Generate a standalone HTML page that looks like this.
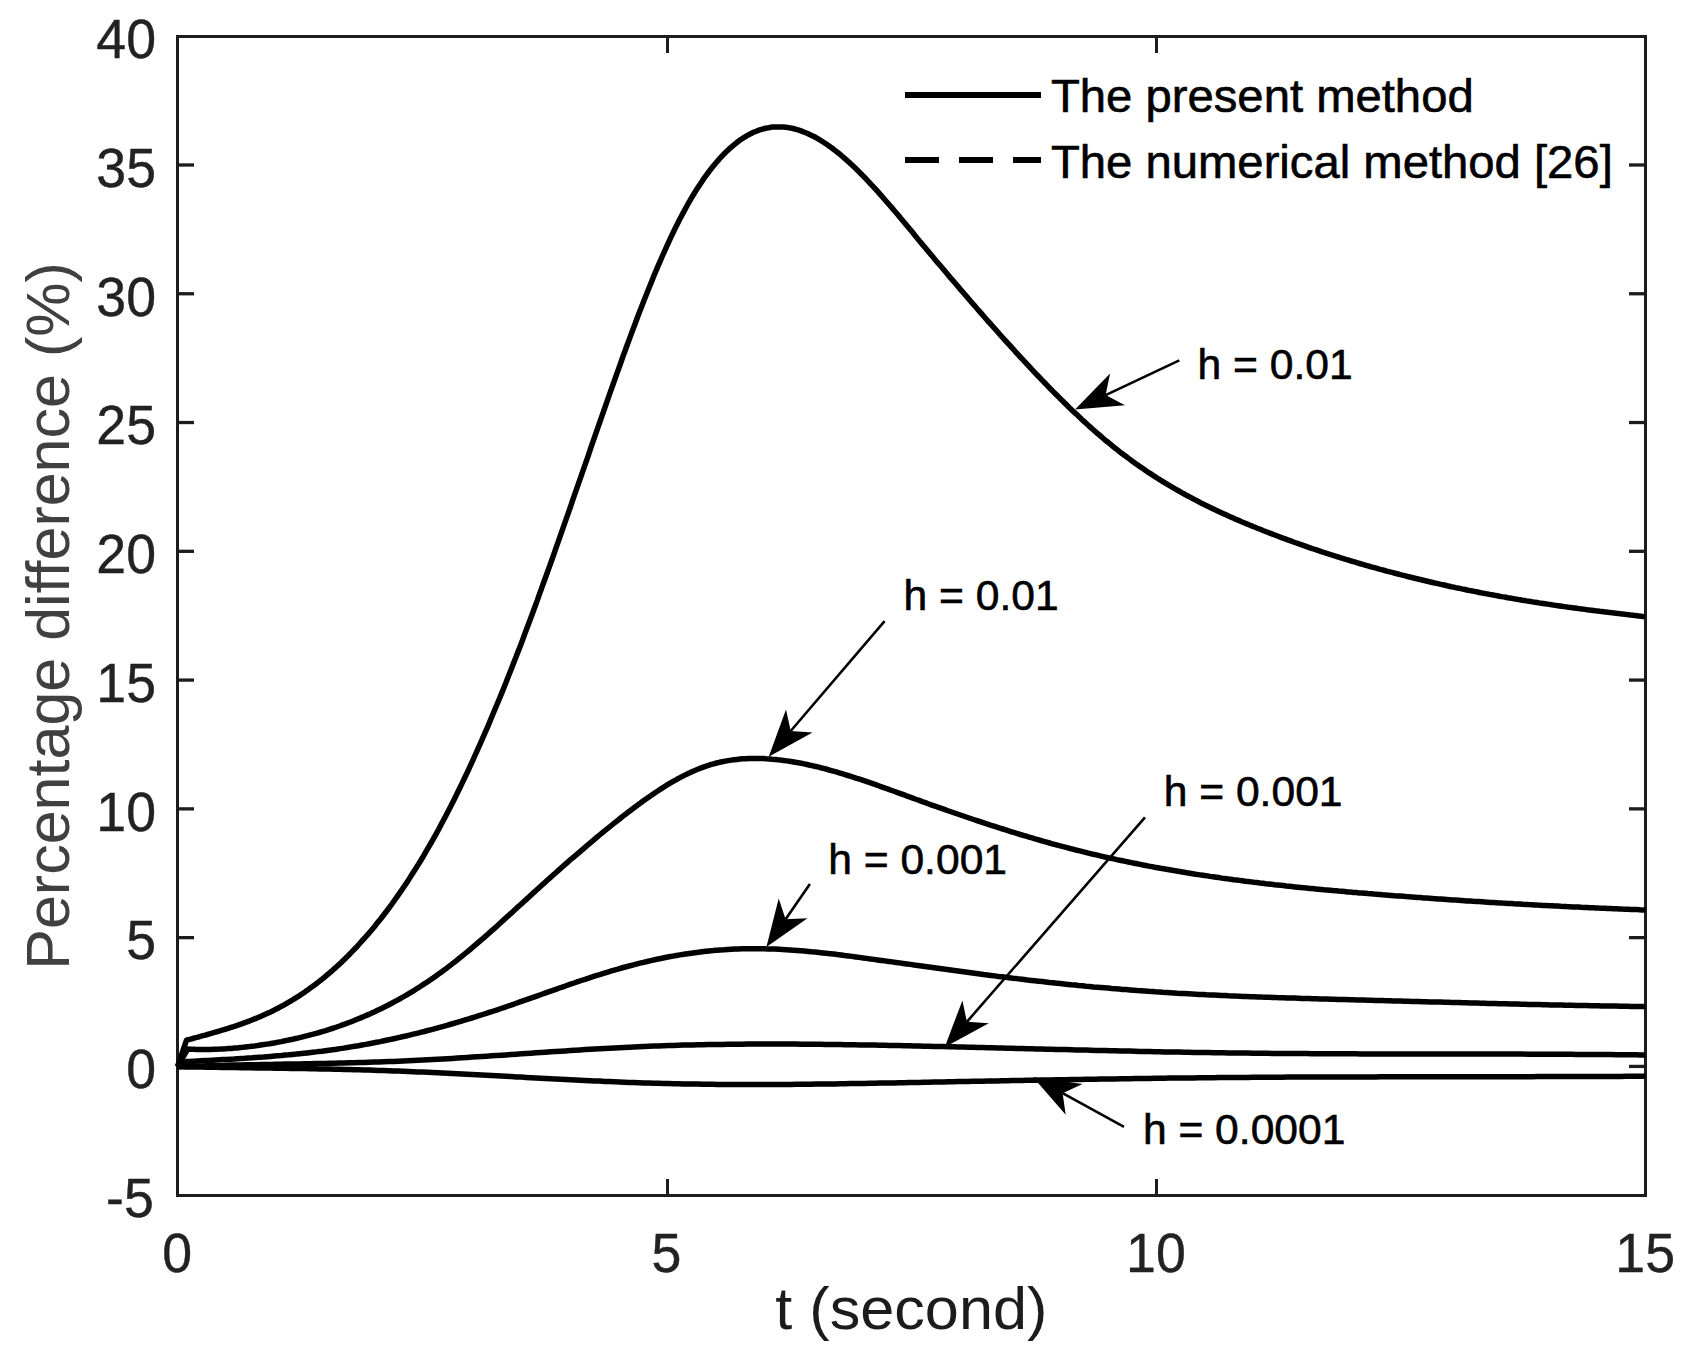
<!DOCTYPE html>
<html><head><meta charset="utf-8"><title>Percentage difference</title>
<style>html,body{margin:0;padding:0;background:#fff;overflow:hidden}svg{display:block}</style></head>
<body>
<svg width="1693" height="1363" viewBox="0 0 1693 1363">
<rect width="1693" height="1363" fill="#fff"/>
<g stroke="#1c1c1c" stroke-width="3" fill="none" shape-rendering="crispEdges">
<rect x="177.5" y="36.5" width="1468.0" height="1159.0"/>
<line x1="177.5" y1="1066.42" x2="194" y2="1066.42" stroke-width="3.3" shape-rendering="auto"/>
<line x1="1645.5" y1="1066.42" x2="1629" y2="1066.42" stroke-width="3.3" shape-rendering="auto"/>
<line x1="177.5" y1="937.64" x2="194" y2="937.64" stroke-width="3.3" shape-rendering="auto"/>
<line x1="1645.5" y1="937.64" x2="1629" y2="937.64" stroke-width="3.3" shape-rendering="auto"/>
<line x1="177.5" y1="808.87" x2="194" y2="808.87" stroke-width="3.3" shape-rendering="auto"/>
<line x1="1645.5" y1="808.87" x2="1629" y2="808.87" stroke-width="3.3" shape-rendering="auto"/>
<line x1="177.5" y1="680.09" x2="194" y2="680.09" stroke-width="3.3" shape-rendering="auto"/>
<line x1="1645.5" y1="680.09" x2="1629" y2="680.09" stroke-width="3.3" shape-rendering="auto"/>
<line x1="177.5" y1="551.31" x2="194" y2="551.31" stroke-width="3.3" shape-rendering="auto"/>
<line x1="1645.5" y1="551.31" x2="1629" y2="551.31" stroke-width="3.3" shape-rendering="auto"/>
<line x1="177.5" y1="422.53" x2="194" y2="422.53" stroke-width="3.3" shape-rendering="auto"/>
<line x1="1645.5" y1="422.53" x2="1629" y2="422.53" stroke-width="3.3" shape-rendering="auto"/>
<line x1="177.5" y1="293.76" x2="194" y2="293.76" stroke-width="3.3" shape-rendering="auto"/>
<line x1="1645.5" y1="293.76" x2="1629" y2="293.76" stroke-width="3.3" shape-rendering="auto"/>
<line x1="177.5" y1="164.98" x2="194" y2="164.98" stroke-width="3.3" shape-rendering="auto"/>
<line x1="1645.5" y1="164.98" x2="1629" y2="164.98" stroke-width="3.3" shape-rendering="auto"/>
<line x1="667.5" y1="1195.5" x2="667.5" y2="1179"/>
<line x1="667.5" y1="36.5" x2="667.5" y2="53"/>
<line x1="1156.5" y1="1195.5" x2="1156.5" y2="1179"/>
<line x1="1156.5" y1="36.5" x2="1156.5" y2="53"/>
</g>
<g fill="none" stroke="#000" stroke-width="5.5" stroke-linejoin="round" stroke-linecap="butt">
<path d="M177.5,1066.7 L186.5,1040.2 L188.6,1039.6 L190.7,1039.1 L192.8,1038.5 L194.8,1037.9 L196.9,1037.4 L199.0,1036.8 L201.1,1036.2 L203.2,1035.6 L205.3,1035.1 L207.4,1034.5 L209.5,1033.9 L211.5,1033.3 L213.6,1032.7 L215.7,1032.1 L217.8,1031.5 L219.9,1030.9 L222.0,1030.2 L224.1,1029.6 L226.2,1029.0 L228.2,1028.3 L230.3,1027.6 L232.4,1027.0 L234.5,1026.3 L236.6,1025.6 L238.7,1024.9 L240.8,1024.1 L242.9,1023.4 L244.9,1022.6 L247.0,1021.9 L249.1,1021.1 L251.2,1020.3 L253.3,1019.4 L255.4,1018.6 L257.5,1017.7 L259.6,1016.9 L261.6,1016.0 L263.7,1015.0 L265.8,1014.1 L267.9,1013.1 L270.0,1012.2 L272.1,1011.2 L274.2,1010.1 L276.3,1009.1 L278.3,1008.0 L280.4,1006.9 L282.5,1005.8 L284.6,1004.6 L286.7,1003.4 L288.8,1002.2 L290.9,1001.0 L293.0,999.7 L295.0,998.4 L297.1,997.1 L299.2,995.8 L301.3,994.4 L303.4,993.0 L305.5,991.6 L307.6,990.1 L309.6,988.6 L311.7,987.1 L313.8,985.6 L315.9,984.0 L318.0,982.4 L320.1,980.7 L322.2,979.1 L324.3,977.4 L326.3,975.7 L328.4,973.9 L330.5,972.1 L332.6,970.3 L334.7,968.4 L336.8,966.5 L338.9,964.6 L341.0,962.7 L343.0,960.7 L345.1,958.7 L347.2,956.6 L349.3,954.5 L351.4,952.4 L353.5,950.2 L355.6,948.0 L357.7,945.8 L359.7,943.5 L361.8,941.2 L363.9,938.9 L366.0,936.5 L368.1,934.1 L370.2,931.7 L372.3,929.2 L374.4,926.7 L376.4,924.1 L378.5,921.5 L380.6,918.9 L382.7,916.2 L384.8,913.5 L386.9,910.8 L389.0,908.0 L391.1,905.2 L393.1,902.3 L395.2,899.4 L397.3,896.4 L399.4,893.4 L401.5,890.4 L403.6,887.3 L405.7,884.2 L407.8,881.1 L409.8,877.9 L411.9,874.6 L414.0,871.3 L416.1,868.0 L418.2,864.6 L420.3,861.2 L422.4,857.8 L424.4,854.3 L426.5,850.7 L428.6,847.1 L430.7,843.5 L432.8,839.8 L434.9,836.1 L437.0,832.3 L439.1,828.5 L441.1,824.6 L443.2,820.7 L445.3,816.7 L447.4,812.7 L449.5,808.7 L451.6,804.6 L453.7,800.4 L455.8,796.2 L457.8,792.0 L459.9,787.7 L462.0,783.4 L464.1,779.0 L466.2,774.6 L468.3,770.2 L470.4,765.6 L472.5,761.1 L474.5,756.5 L476.6,751.9 L478.7,747.2 L480.8,742.5 L482.9,737.7 L485.0,732.9 L487.1,728.1 L489.2,723.2 L491.2,718.3 L493.3,713.3 L495.4,708.3 L497.5,703.3 L499.6,698.2 L501.7,693.1 L503.8,688.0 L505.9,682.8 L507.9,677.5 L510.0,672.3 L512.1,667.0 L514.2,661.6 L516.3,656.3 L518.4,650.8 L520.5,645.4 L522.6,639.9 L524.6,634.4 L526.7,628.8 L528.8,623.3 L530.9,617.6 L533.0,612.0 L535.1,606.3 L537.2,600.6 L539.2,594.9 L541.3,589.1 L543.4,583.3 L545.5,577.5 L547.6,571.7 L549.7,565.8 L551.8,560.0 L553.9,554.1 L555.9,548.2 L558.0,542.3 L560.1,536.3 L562.2,530.4 L564.3,524.4 L566.4,518.4 L568.5,512.4 L570.6,506.5 L572.6,500.4 L574.7,494.4 L576.8,488.4 L578.9,482.4 L581.0,476.4 L583.1,470.4 L585.2,464.3 L587.3,458.3 L589.3,452.3 L591.4,446.2 L593.5,440.2 L595.6,434.2 L597.7,428.2 L599.8,422.2 L601.9,416.2 L604.0,410.2 L606.0,404.3 L608.1,398.3 L610.2,392.4 L612.3,386.5 L614.4,380.6 L616.5,374.7 L618.6,368.8 L620.7,363.0 L622.7,357.2 L624.8,351.5 L626.9,345.8 L629.0,340.1 L631.1,334.4 L633.2,328.8 L635.3,323.3 L637.3,317.8 L639.4,312.3 L641.5,306.9 L643.6,301.5 L645.7,296.2 L647.8,291.0 L649.9,285.8 L652.0,280.6 L654.0,275.6 L656.1,270.6 L658.2,265.6 L660.3,260.8 L662.4,256.0 L664.5,251.3 L666.6,246.6 L668.7,242.1 L670.7,237.6 L672.8,233.2 L674.9,228.9 L677.0,224.7 L679.1,220.5 L681.2,216.5 L683.3,212.6 L685.4,208.7 L687.4,205.0 L689.5,201.3 L691.6,197.7 L693.7,194.3 L695.8,190.9 L697.9,187.6 L700.0,184.4 L702.1,181.3 L704.1,178.2 L706.2,175.3 L708.3,172.5 L710.4,169.7 L712.5,167.1 L714.6,164.5 L716.7,162.0 L718.8,159.6 L720.8,157.3 L722.9,155.1 L725.0,153.0 L727.1,150.9 L729.2,148.9 L731.3,147.1 L733.4,145.3 L735.5,143.6 L737.5,142.0 L739.6,140.4 L741.7,139.0 L743.8,137.6 L745.9,136.3 L748.0,135.1 L750.1,134.0 L752.1,133.0 L754.2,132.0 L756.3,131.2 L758.4,130.4 L760.5,129.7 L762.6,129.1 L764.7,128.5 L766.8,128.0 L768.8,127.7 L770.9,127.3 L773.0,127.1 L775.1,127.0 L777.2,126.9 L779.3,126.9 L781.4,126.9 L783.5,127.1 L785.5,127.3 L787.6,127.5 L789.7,127.9 L791.8,128.3 L793.9,128.8 L796.0,129.3 L798.1,129.9 L800.2,130.6 L802.2,131.4 L804.3,132.2 L806.4,133.0 L808.5,133.9 L810.6,134.9 L812.7,135.9 L814.8,137.0 L816.9,138.2 L818.9,139.4 L821.0,140.7 L823.1,142.0 L825.2,143.3 L827.3,144.7 L829.4,146.2 L831.5,147.7 L833.6,149.3 L835.6,150.9 L837.7,152.5 L839.8,154.2 L841.9,156.0 L844.0,157.8 L846.1,159.6 L848.2,161.5 L850.3,163.4 L852.3,165.3 L854.4,167.3 L856.5,169.3 L858.6,171.4 L860.7,173.5 L862.8,175.6 L864.9,177.7 L866.9,179.9 L869.0,182.1 L871.1,184.4 L873.2,186.6 L875.3,188.9 L877.4,191.2 L879.5,193.6 L881.6,195.9 L883.6,198.3 L885.7,200.7 L887.8,203.1 L889.9,205.5 L892.0,207.9 L894.1,210.4 L896.2,212.8 L898.3,215.3 L900.3,217.8 L902.4,220.3 L904.5,222.8 L906.6,225.3 L908.7,227.8 L910.8,230.3 L912.9,232.8 L915.0,235.4 L917.0,237.9 L919.1,240.4 L921.2,242.9 L923.3,245.4 L925.4,247.9 L927.5,250.4 L929.6,252.9 L931.7,255.4 L933.7,257.9 L935.8,260.4 L937.9,262.9 L940.0,265.3 L942.1,267.8 L944.2,270.3 L946.3,272.7 L948.4,275.2 L950.4,277.7 L952.5,280.1 L954.6,282.6 L956.7,285.0 L958.8,287.4 L960.9,289.9 L963.0,292.3 L965.1,294.7 L967.1,297.1 L969.2,299.6 L971.3,302.0 L973.4,304.4 L975.5,306.8 L977.6,309.2 L979.7,311.6 L981.7,313.9 L983.8,316.3 L985.9,318.7 L988.0,321.1 L990.1,323.4 L992.2,325.8 L994.3,328.1 L996.4,330.5 L998.4,332.8 L1000.5,335.2 L1002.6,337.5 L1004.7,339.8 L1006.8,342.1 L1008.9,344.4 L1011.0,346.7 L1013.1,349.0 L1015.1,351.3 L1017.2,353.6 L1019.3,355.9 L1021.4,358.2 L1023.5,360.4 L1025.6,362.7 L1027.7,364.9 L1029.8,367.2 L1031.8,369.4 L1033.9,371.6 L1036.0,373.8 L1038.1,376.0 L1040.2,378.2 L1042.3,380.4 L1044.4,382.5 L1046.5,384.7 L1048.5,386.8 L1050.6,389.0 L1052.7,391.1 L1054.8,393.2 L1056.9,395.3 L1059.0,397.4 L1061.1,399.5 L1063.2,401.5 L1065.2,403.6 L1067.3,405.6 L1069.4,407.7 L1071.5,409.7 L1073.6,411.7 L1075.7,413.6 L1077.8,415.6 L1079.9,417.6 L1081.9,419.5 L1084.0,421.4 L1086.1,423.3 L1088.2,425.2 L1090.3,427.1 L1092.4,429.0 L1094.5,430.8 L1096.5,432.6 L1098.6,434.4 L1100.7,436.2 L1102.8,438.0 L1104.9,439.8 L1107.0,441.5 L1109.1,443.2 L1111.2,444.9 L1113.2,446.6 L1115.3,448.3 L1117.4,449.9 L1119.5,451.6 L1121.6,453.2 L1123.7,454.8 L1125.8,456.3 L1127.9,457.9 L1129.9,459.4 L1132.0,461.0 L1134.1,462.5 L1136.2,464.0 L1138.3,465.4 L1140.4,466.9 L1142.5,468.3 L1144.6,469.8 L1146.6,471.2 L1148.7,472.6 L1150.8,473.9 L1152.9,475.3 L1155.0,476.6 L1157.1,478.0 L1159.2,479.3 L1161.3,480.6 L1163.3,481.9 L1165.4,483.2 L1167.5,484.4 L1169.6,485.7 L1171.7,486.9 L1173.8,488.1 L1175.9,489.3 L1178.0,490.5 L1180.0,491.7 L1182.1,492.9 L1184.2,494.0 L1186.3,495.2 L1188.4,496.3 L1190.5,497.4 L1192.6,498.5 L1194.7,499.6 L1196.7,500.7 L1198.8,501.8 L1200.9,502.9 L1203.0,503.9 L1205.1,505.0 L1207.2,506.0 L1209.3,507.0 L1211.3,508.0 L1213.4,509.0 L1215.5,510.0 L1217.6,511.0 L1219.7,512.0 L1221.8,512.9 L1223.9,513.9 L1226.0,514.8 L1228.0,515.8 L1230.1,516.7 L1232.2,517.6 L1234.3,518.6 L1236.4,519.5 L1238.5,520.4 L1240.6,521.3 L1242.7,522.2 L1244.7,523.0 L1246.8,523.9 L1248.9,524.8 L1251.0,525.6 L1253.1,526.5 L1255.2,527.3 L1257.3,528.2 L1259.4,529.0 L1261.4,529.8 L1263.5,530.7 L1265.6,531.5 L1267.7,532.3 L1269.8,533.1 L1271.9,533.9 L1274.0,534.7 L1276.1,535.5 L1278.1,536.3 L1280.2,537.1 L1282.3,537.9 L1284.4,538.6 L1286.5,539.4 L1288.6,540.2 L1290.7,540.9 L1292.8,541.7 L1294.8,542.5 L1296.9,543.2 L1299.0,543.9 L1301.1,544.7 L1303.2,545.4 L1305.3,546.1 L1307.4,546.9 L1309.4,547.6 L1311.5,548.3 L1313.6,549.0 L1315.7,549.7 L1317.8,550.4 L1319.9,551.1 L1322.0,551.8 L1324.1,552.5 L1326.1,553.2 L1328.2,553.8 L1330.3,554.5 L1332.4,555.2 L1334.5,555.8 L1336.6,556.5 L1338.7,557.1 L1340.8,557.8 L1342.8,558.4 L1344.9,559.1 L1347.0,559.7 L1349.1,560.4 L1351.2,561.0 L1353.3,561.6 L1355.4,562.2 L1357.5,562.9 L1359.5,563.5 L1361.6,564.1 L1363.7,564.7 L1365.8,565.3 L1367.9,565.9 L1370.0,566.5 L1372.1,567.1 L1374.2,567.6 L1376.2,568.2 L1378.3,568.8 L1380.4,569.4 L1382.5,569.9 L1384.6,570.5 L1386.7,571.1 L1388.8,571.6 L1390.9,572.2 L1392.9,572.7 L1395.0,573.3 L1397.1,573.8 L1399.2,574.3 L1401.3,574.9 L1403.4,575.4 L1405.5,575.9 L1407.6,576.5 L1409.6,577.0 L1411.7,577.5 L1413.8,578.0 L1415.9,578.5 L1418.0,579.0 L1420.1,579.5 L1422.2,580.0 L1424.2,580.5 L1426.3,581.0 L1428.4,581.5 L1430.5,582.0 L1432.6,582.5 L1434.7,583.0 L1436.8,583.4 L1438.9,583.9 L1440.9,584.4 L1443.0,584.8 L1445.1,585.3 L1447.2,585.8 L1449.3,586.2 L1451.4,586.7 L1453.5,587.1 L1455.6,587.6 L1457.6,588.0 L1459.7,588.4 L1461.8,588.9 L1463.9,589.3 L1466.0,589.7 L1468.1,590.2 L1470.2,590.6 L1472.3,591.0 L1474.3,591.4 L1476.4,591.8 L1478.5,592.2 L1480.6,592.7 L1482.7,593.1 L1484.8,593.5 L1486.9,593.9 L1489.0,594.3 L1491.0,594.6 L1493.1,595.0 L1495.2,595.4 L1497.3,595.8 L1499.4,596.2 L1501.5,596.6 L1503.6,596.9 L1505.7,597.3 L1507.7,597.7 L1509.8,598.0 L1511.9,598.4 L1514.0,598.8 L1516.1,599.1 L1518.2,599.5 L1520.3,599.8 L1522.4,600.2 L1524.4,600.5 L1526.5,600.9 L1528.6,601.2 L1530.7,601.5 L1532.8,601.9 L1534.9,602.2 L1537.0,602.5 L1539.0,602.9 L1541.1,603.2 L1543.2,603.5 L1545.3,603.8 L1547.4,604.1 L1549.5,604.4 L1551.6,604.8 L1553.7,605.1 L1555.7,605.4 L1557.8,605.7 L1559.9,606.0 L1562.0,606.3 L1564.1,606.6 L1566.2,606.9 L1568.3,607.2 L1570.4,607.4 L1572.4,607.7 L1574.5,608.0 L1576.6,608.3 L1578.7,608.6 L1580.8,608.9 L1582.9,609.1 L1585.0,609.4 L1587.1,609.7 L1589.1,609.9 L1591.2,610.2 L1593.3,610.5 L1595.4,610.8 L1597.5,611.0 L1599.6,611.3 L1601.7,611.5 L1603.8,611.8 L1605.8,612.1 L1607.9,612.3 L1610.0,612.6 L1612.1,612.8 L1614.2,613.1 L1616.3,613.3 L1618.4,613.6 L1620.5,613.8 L1622.5,614.1 L1624.6,614.3 L1626.7,614.6 L1628.8,614.8 L1630.9,615.1 L1633.0,615.3 L1635.1,615.6 L1637.2,615.8 L1639.2,616.1 L1641.3,616.3 L1643.4,616.6 L1645.5,616.8"/>
<path d="M177.5,1066.7 L187.7,1049.1 L190.6,1049.2 L193.5,1049.3 L196.5,1049.4 L199.4,1049.5 L202.3,1049.5 L205.2,1049.5 L208.2,1049.5 L211.1,1049.4 L214.0,1049.3 L216.9,1049.2 L219.8,1049.1 L222.8,1048.9 L225.7,1048.8 L228.6,1048.6 L231.5,1048.4 L234.4,1048.1 L237.4,1047.9 L240.3,1047.6 L243.2,1047.3 L246.1,1046.9 L249.1,1046.6 L252.0,1046.2 L254.9,1045.9 L257.8,1045.5 L260.7,1045.0 L263.7,1044.6 L266.6,1044.1 L269.5,1043.7 L272.4,1043.2 L275.3,1042.7 L278.3,1042.1 L281.2,1041.6 L284.1,1041.0 L287.0,1040.4 L290.0,1039.8 L292.9,1039.2 L295.8,1038.5 L298.7,1037.9 L301.6,1037.2 L304.6,1036.4 L307.5,1035.7 L310.4,1034.9 L313.3,1034.2 L316.2,1033.3 L319.2,1032.5 L322.1,1031.6 L325.0,1030.8 L327.9,1029.9 L330.9,1028.9 L333.8,1028.0 L336.7,1027.0 L339.6,1026.0 L342.5,1024.9 L345.5,1023.9 L348.4,1022.8 L351.3,1021.7 L354.2,1020.5 L357.1,1019.3 L360.1,1018.1 L363.0,1016.9 L365.9,1015.6 L368.8,1014.4 L371.8,1013.0 L374.7,1011.7 L377.6,1010.3 L380.5,1008.9 L383.4,1007.5 L386.4,1006.0 L389.3,1004.5 L392.2,1003.0 L395.1,1001.4 L398.0,999.8 L401.0,998.2 L403.9,996.5 L406.8,994.8 L409.7,993.1 L412.7,991.3 L415.6,989.5 L418.5,987.7 L421.4,985.8 L424.3,983.9 L427.3,982.0 L430.2,980.0 L433.1,978.0 L436.0,975.9 L438.9,973.8 L441.9,971.7 L444.8,969.6 L447.7,967.4 L450.6,965.1 L453.6,962.9 L456.5,960.6 L459.4,958.2 L462.3,955.9 L465.2,953.5 L468.2,951.1 L471.1,948.6 L474.0,946.2 L476.9,943.7 L479.8,941.1 L482.8,938.6 L485.7,936.1 L488.6,933.5 L491.5,930.9 L494.5,928.3 L497.4,925.7 L500.3,923.0 L503.2,920.4 L506.1,917.7 L509.1,915.1 L512.0,912.4 L514.9,909.8 L517.8,907.1 L520.7,904.4 L523.7,901.7 L526.6,899.1 L529.5,896.4 L532.4,893.7 L535.4,891.1 L538.3,888.4 L541.2,885.8 L544.1,883.2 L547.0,880.5 L550.0,877.9 L552.9,875.3 L555.8,872.7 L558.7,870.1 L561.6,867.5 L564.6,864.9 L567.5,862.4 L570.4,859.8 L573.3,857.3 L576.3,854.8 L579.2,852.3 L582.1,849.8 L585.0,847.3 L587.9,844.8 L590.9,842.3 L593.8,839.9 L596.7,837.4 L599.6,835.0 L602.5,832.6 L605.5,830.2 L608.4,827.9 L611.3,825.5 L614.2,823.2 L617.2,820.8 L620.1,818.5 L623.0,816.2 L625.9,814.0 L628.8,811.7 L631.8,809.5 L634.7,807.3 L637.6,805.1 L640.5,803.0 L643.4,800.8 L646.4,798.7 L649.3,796.7 L652.2,794.7 L655.1,792.7 L658.1,790.8 L661.0,788.9 L663.9,787.0 L666.8,785.2 L669.7,783.4 L672.7,781.7 L675.6,780.1 L678.5,778.4 L681.4,776.9 L684.3,775.4 L687.3,773.9 L690.2,772.6 L693.1,771.2 L696.0,770.0 L699.0,768.8 L701.9,767.6 L704.8,766.6 L707.7,765.6 L710.6,764.7 L713.6,763.8 L716.5,763.0 L719.4,762.3 L722.3,761.7 L725.2,761.1 L728.2,760.6 L731.1,760.1 L734.0,759.7 L736.9,759.4 L739.9,759.1 L742.8,758.8 L745.7,758.7 L748.6,758.5 L751.5,758.5 L754.5,758.4 L757.4,758.4 L760.3,758.5 L763.2,758.6 L766.1,758.8 L769.1,758.9 L772.0,759.2 L774.9,759.4 L777.8,759.8 L780.8,760.1 L783.7,760.5 L786.6,760.9 L789.5,761.3 L792.4,761.8 L795.4,762.3 L798.3,762.8 L801.2,763.3 L804.1,763.9 L807.0,764.5 L810.0,765.2 L812.9,765.8 L815.8,766.5 L818.7,767.2 L821.7,768.0 L824.6,768.7 L827.5,769.5 L830.4,770.3 L833.3,771.1 L836.3,771.9 L839.2,772.8 L842.1,773.7 L845.0,774.6 L847.9,775.5 L850.9,776.4 L853.8,777.3 L856.7,778.3 L859.6,779.2 L862.6,780.2 L865.5,781.2 L868.4,782.2 L871.3,783.2 L874.2,784.2 L877.2,785.2 L880.1,786.3 L883.0,787.3 L885.9,788.3 L888.8,789.4 L891.8,790.5 L894.7,791.5 L897.6,792.6 L900.5,793.6 L903.5,794.7 L906.4,795.8 L909.3,796.8 L912.2,797.9 L915.1,799.0 L918.1,800.0 L921.0,801.1 L923.9,802.2 L926.8,803.2 L929.7,804.3 L932.7,805.3 L935.6,806.3 L938.5,807.4 L941.4,808.4 L944.4,809.4 L947.3,810.5 L950.2,811.5 L953.1,812.5 L956.0,813.5 L959.0,814.5 L961.9,815.5 L964.8,816.5 L967.7,817.5 L970.6,818.5 L973.6,819.5 L976.5,820.5 L979.4,821.4 L982.3,822.4 L985.3,823.4 L988.2,824.3 L991.1,825.3 L994.0,826.2 L996.9,827.2 L999.9,828.1 L1002.8,829.0 L1005.7,829.9 L1008.6,830.9 L1011.5,831.8 L1014.5,832.7 L1017.4,833.6 L1020.3,834.5 L1023.2,835.3 L1026.2,836.2 L1029.1,837.1 L1032.0,837.9 L1034.9,838.8 L1037.8,839.6 L1040.8,840.5 L1043.7,841.3 L1046.6,842.1 L1049.5,843.0 L1052.4,843.8 L1055.4,844.6 L1058.3,845.4 L1061.2,846.2 L1064.1,846.9 L1067.1,847.7 L1070.0,848.5 L1072.9,849.2 L1075.8,850.0 L1078.7,850.7 L1081.7,851.4 L1084.6,852.1 L1087.5,852.9 L1090.4,853.6 L1093.3,854.3 L1096.3,854.9 L1099.2,855.6 L1102.1,856.3 L1105.0,857.0 L1108.0,857.6 L1110.9,858.3 L1113.8,858.9 L1116.7,859.6 L1119.6,860.2 L1122.6,860.8 L1125.5,861.4 L1128.4,862.0 L1131.3,862.6 L1134.2,863.2 L1137.2,863.8 L1140.1,864.4 L1143.0,865.0 L1145.9,865.5 L1148.9,866.1 L1151.8,866.6 L1154.7,867.2 L1157.6,867.7 L1160.5,868.3 L1163.5,868.8 L1166.4,869.3 L1169.3,869.8 L1172.2,870.3 L1175.1,870.8 L1178.1,871.3 L1181.0,871.8 L1183.9,872.3 L1186.8,872.8 L1189.8,873.2 L1192.7,873.7 L1195.6,874.2 L1198.5,874.6 L1201.4,875.1 L1204.4,875.5 L1207.3,875.9 L1210.2,876.4 L1213.1,876.8 L1216.0,877.2 L1219.0,877.6 L1221.9,878.1 L1224.8,878.5 L1227.7,878.9 L1230.7,879.3 L1233.6,879.7 L1236.5,880.0 L1239.4,880.4 L1242.3,880.8 L1245.3,881.2 L1248.2,881.5 L1251.1,881.9 L1254.0,882.3 L1256.9,882.6 L1259.9,883.0 L1262.8,883.3 L1265.7,883.7 L1268.6,884.0 L1271.6,884.3 L1274.5,884.7 L1277.4,885.0 L1280.3,885.3 L1283.2,885.6 L1286.2,886.0 L1289.1,886.3 L1292.0,886.6 L1294.9,886.9 L1297.8,887.2 L1300.8,887.5 L1303.7,887.8 L1306.6,888.1 L1309.5,888.4 L1312.5,888.6 L1315.4,888.9 L1318.3,889.2 L1321.2,889.5 L1324.1,889.8 L1327.1,890.0 L1330.0,890.3 L1332.9,890.6 L1335.8,890.8 L1338.7,891.1 L1341.7,891.3 L1344.6,891.6 L1347.5,891.9 L1350.4,892.1 L1353.4,892.4 L1356.3,892.6 L1359.2,892.9 L1362.1,893.1 L1365.0,893.3 L1368.0,893.6 L1370.9,893.8 L1373.8,894.1 L1376.7,894.3 L1379.6,894.5 L1382.6,894.8 L1385.5,895.0 L1388.4,895.2 L1391.3,895.4 L1394.3,895.7 L1397.2,895.9 L1400.1,896.1 L1403.0,896.3 L1405.9,896.6 L1408.9,896.8 L1411.8,897.0 L1414.7,897.2 L1417.6,897.4 L1420.5,897.6 L1423.5,897.9 L1426.4,898.1 L1429.3,898.3 L1432.2,898.5 L1435.2,898.7 L1438.1,898.9 L1441.0,899.1 L1443.9,899.3 L1446.8,899.5 L1449.8,899.7 L1452.7,899.9 L1455.6,900.1 L1458.5,900.3 L1461.4,900.5 L1464.4,900.7 L1467.3,900.9 L1470.2,901.1 L1473.1,901.3 L1476.1,901.4 L1479.0,901.6 L1481.9,901.8 L1484.8,902.0 L1487.7,902.2 L1490.7,902.4 L1493.6,902.5 L1496.5,902.7 L1499.4,902.9 L1502.3,903.1 L1505.3,903.2 L1508.2,903.4 L1511.1,903.6 L1514.0,903.8 L1517.0,903.9 L1519.9,904.1 L1522.8,904.3 L1525.7,904.4 L1528.6,904.6 L1531.6,904.7 L1534.5,904.9 L1537.4,905.1 L1540.3,905.2 L1543.2,905.4 L1546.2,905.5 L1549.1,905.7 L1552.0,905.8 L1554.9,906.0 L1557.9,906.1 L1560.8,906.3 L1563.7,906.4 L1566.6,906.6 L1569.5,906.7 L1572.5,906.9 L1575.4,907.0 L1578.3,907.1 L1581.2,907.3 L1584.1,907.4 L1587.1,907.5 L1590.0,907.7 L1592.9,907.8 L1595.8,907.9 L1598.8,908.1 L1601.7,908.2 L1604.6,908.3 L1607.5,908.5 L1610.4,908.6 L1613.4,908.7 L1616.3,908.8 L1619.2,908.9 L1622.1,909.1 L1625.0,909.2 L1628.0,909.3 L1630.9,909.4 L1633.8,909.5 L1636.7,909.6 L1639.7,909.8 L1642.6,909.9 L1645.5,910.0"/>
<path d="M177.5,1066.7 L186.5,1061.6 L190.2,1061.4 L193.8,1061.2 L197.5,1061.0 L201.1,1060.8 L204.8,1060.6 L208.4,1060.4 L212.1,1060.2 L215.8,1060.0 L219.4,1059.8 L223.1,1059.6 L226.7,1059.4 L230.4,1059.2 L234.0,1059.0 L237.7,1058.7 L241.3,1058.5 L245.0,1058.3 L248.7,1058.0 L252.3,1057.8 L256.0,1057.5 L259.6,1057.2 L263.3,1057.0 L266.9,1056.7 L270.6,1056.4 L274.3,1056.1 L277.9,1055.8 L281.6,1055.5 L285.2,1055.1 L288.9,1054.8 L292.5,1054.4 L296.2,1054.1 L299.9,1053.7 L303.5,1053.3 L307.2,1052.9 L310.8,1052.5 L314.5,1052.1 L318.1,1051.6 L321.8,1051.2 L325.5,1050.7 L329.1,1050.2 L332.8,1049.7 L336.4,1049.2 L340.1,1048.6 L343.7,1048.1 L347.4,1047.5 L351.0,1046.9 L354.7,1046.3 L358.4,1045.7 L362.0,1045.0 L365.7,1044.4 L369.3,1043.7 L373.0,1043.0 L376.6,1042.3 L380.3,1041.6 L384.0,1040.8 L387.6,1040.0 L391.3,1039.3 L394.9,1038.5 L398.6,1037.6 L402.2,1036.8 L405.9,1036.0 L409.6,1035.1 L413.2,1034.2 L416.9,1033.3 L420.5,1032.4 L424.2,1031.5 L427.8,1030.5 L431.5,1029.6 L435.2,1028.6 L438.8,1027.6 L442.5,1026.6 L446.1,1025.6 L449.8,1024.5 L453.4,1023.5 L457.1,1022.4 L460.7,1021.3 L464.4,1020.2 L468.1,1019.1 L471.7,1018.0 L475.4,1016.9 L479.0,1015.7 L482.7,1014.5 L486.3,1013.4 L490.0,1012.2 L493.7,1011.0 L497.3,1009.8 L501.0,1008.5 L504.6,1007.3 L508.3,1006.0 L511.9,1004.8 L515.6,1003.5 L519.3,1002.2 L522.9,1000.9 L526.6,999.7 L530.2,998.4 L533.9,997.1 L537.5,995.8 L541.2,994.5 L544.9,993.2 L548.5,991.9 L552.2,990.6 L555.8,989.3 L559.5,988.0 L563.1,986.8 L566.8,985.5 L570.4,984.2 L574.1,983.0 L577.8,981.7 L581.4,980.5 L585.1,979.3 L588.7,978.1 L592.4,976.9 L596.0,975.7 L599.7,974.6 L603.4,973.4 L607.0,972.3 L610.7,971.2 L614.3,970.1 L618.0,969.1 L621.6,968.0 L625.3,967.0 L629.0,966.0 L632.6,965.1 L636.3,964.1 L639.9,963.2 L643.6,962.3 L647.2,961.5 L650.9,960.6 L654.6,959.8 L658.2,959.0 L661.9,958.3 L665.5,957.5 L669.2,956.8 L672.8,956.1 L676.5,955.5 L680.1,954.9 L683.8,954.3 L687.5,953.7 L691.1,953.2 L694.8,952.7 L698.4,952.2 L702.1,951.7 L705.7,951.3 L709.4,950.9 L713.1,950.6 L716.7,950.2 L720.4,949.9 L724.0,949.7 L727.7,949.4 L731.3,949.2 L735.0,949.0 L738.7,948.9 L742.3,948.8 L746.0,948.7 L749.6,948.7 L753.3,948.7 L756.9,948.7 L760.6,948.7 L764.2,948.8 L767.9,948.9 L771.6,949.0 L775.2,949.1 L778.9,949.3 L782.5,949.5 L786.2,949.7 L789.8,949.9 L793.5,950.2 L797.2,950.5 L800.8,950.8 L804.5,951.1 L808.1,951.4 L811.8,951.8 L815.4,952.1 L819.1,952.5 L822.8,952.9 L826.4,953.3 L830.1,953.7 L833.7,954.1 L837.4,954.6 L841.0,955.0 L844.7,955.5 L848.4,955.9 L852.0,956.4 L855.7,956.9 L859.3,957.4 L863.0,957.9 L866.6,958.4 L870.3,958.9 L873.9,959.4 L877.6,959.9 L881.3,960.4 L884.9,960.9 L888.6,961.4 L892.2,961.9 L895.9,962.4 L899.5,962.9 L903.2,963.4 L906.9,963.9 L910.5,964.4 L914.2,965.0 L917.8,965.5 L921.5,966.0 L925.1,966.5 L928.8,967.0 L932.5,967.5 L936.1,968.0 L939.8,968.5 L943.4,969.0 L947.1,969.5 L950.7,970.0 L954.4,970.5 L958.1,971.0 L961.7,971.5 L965.4,972.0 L969.0,972.5 L972.7,973.0 L976.3,973.5 L980.0,974.0 L983.6,974.5 L987.3,974.9 L991.0,975.4 L994.6,975.9 L998.3,976.4 L1001.9,976.8 L1005.6,977.3 L1009.2,977.7 L1012.9,978.2 L1016.6,978.6 L1020.2,979.1 L1023.9,979.5 L1027.5,980.0 L1031.2,980.4 L1034.8,980.8 L1038.5,981.2 L1042.2,981.6 L1045.8,982.0 L1049.5,982.5 L1053.1,982.8 L1056.8,983.2 L1060.4,983.6 L1064.1,984.0 L1067.8,984.4 L1071.4,984.8 L1075.1,985.1 L1078.7,985.5 L1082.4,985.8 L1086.0,986.2 L1089.7,986.5 L1093.3,986.9 L1097.0,987.2 L1100.7,987.5 L1104.3,987.8 L1108.0,988.1 L1111.6,988.5 L1115.3,988.8 L1118.9,989.1 L1122.6,989.4 L1126.3,989.6 L1129.9,989.9 L1133.6,990.2 L1137.2,990.5 L1140.9,990.7 L1144.5,991.0 L1148.2,991.3 L1151.9,991.5 L1155.5,991.8 L1159.2,992.0 L1162.8,992.3 L1166.5,992.5 L1170.1,992.7 L1173.8,992.9 L1177.4,993.2 L1181.1,993.4 L1184.8,993.6 L1188.4,993.8 L1192.1,994.0 L1195.7,994.2 L1199.4,994.4 L1203.0,994.6 L1206.7,994.8 L1210.4,994.9 L1214.0,995.1 L1217.7,995.3 L1221.3,995.5 L1225.0,995.6 L1228.6,995.8 L1232.3,995.9 L1236.0,996.1 L1239.6,996.2 L1243.3,996.4 L1246.9,996.5 L1250.6,996.7 L1254.2,996.8 L1257.9,996.9 L1261.6,997.1 L1265.2,997.2 L1268.9,997.3 L1272.5,997.4 L1276.2,997.6 L1279.8,997.7 L1283.5,997.8 L1287.1,997.9 L1290.8,998.0 L1294.5,998.1 L1298.1,998.2 L1301.8,998.4 L1305.4,998.5 L1309.1,998.6 L1312.7,998.7 L1316.4,998.8 L1320.1,998.9 L1323.7,999.0 L1327.4,999.1 L1331.0,999.2 L1334.7,999.3 L1338.3,999.4 L1342.0,999.5 L1345.7,999.6 L1349.3,999.7 L1353.0,999.8 L1356.6,999.9 L1360.3,1000.0 L1363.9,1000.1 L1367.6,1000.2 L1371.3,1000.3 L1374.9,1000.4 L1378.6,1000.5 L1382.2,1000.6 L1385.9,1000.7 L1389.5,1000.8 L1393.2,1000.9 L1396.8,1001.0 L1400.5,1001.1 L1404.2,1001.2 L1407.8,1001.3 L1411.5,1001.4 L1415.1,1001.5 L1418.8,1001.6 L1422.4,1001.7 L1426.1,1001.8 L1429.8,1001.9 L1433.4,1001.9 L1437.1,1002.0 L1440.7,1002.1 L1444.4,1002.2 L1448.0,1002.3 L1451.7,1002.4 L1455.4,1002.5 L1459.0,1002.6 L1462.7,1002.7 L1466.3,1002.8 L1470.0,1002.9 L1473.6,1003.0 L1477.3,1003.1 L1481.0,1003.2 L1484.6,1003.3 L1488.3,1003.4 L1491.9,1003.5 L1495.6,1003.6 L1499.2,1003.7 L1502.9,1003.7 L1506.5,1003.8 L1510.2,1003.9 L1513.9,1004.0 L1517.5,1004.1 L1521.2,1004.2 L1524.8,1004.3 L1528.5,1004.4 L1532.1,1004.4 L1535.8,1004.5 L1539.5,1004.6 L1543.1,1004.7 L1546.8,1004.8 L1550.4,1004.9 L1554.1,1004.9 L1557.7,1005.0 L1561.4,1005.1 L1565.1,1005.2 L1568.7,1005.2 L1572.4,1005.3 L1576.0,1005.4 L1579.7,1005.5 L1583.3,1005.5 L1587.0,1005.6 L1590.7,1005.7 L1594.3,1005.8 L1598.0,1005.8 L1601.6,1005.9 L1605.3,1006.0 L1608.9,1006.0 L1612.6,1006.1 L1616.2,1006.1 L1619.9,1006.2 L1623.6,1006.3 L1627.2,1006.3 L1630.9,1006.4 L1634.5,1006.4 L1638.2,1006.5 L1641.8,1006.5 L1645.5,1006.6"/>
<path d="M177.5,1066.7 L182.4,1066.5 L187.3,1066.4 L192.2,1066.2 L197.1,1066.0 L202.0,1065.9 L207.0,1065.8 L211.9,1065.6 L216.8,1065.5 L221.7,1065.4 L226.6,1065.3 L231.5,1065.1 L236.4,1065.0 L241.3,1064.9 L246.2,1064.8 L251.1,1064.7 L256.1,1064.7 L261.0,1064.6 L265.9,1064.5 L270.8,1064.4 L275.7,1064.3 L280.6,1064.2 L285.5,1064.1 L290.4,1064.0 L295.3,1064.0 L300.2,1063.9 L305.2,1063.8 L310.1,1063.7 L315.0,1063.6 L319.9,1063.5 L324.8,1063.4 L329.7,1063.3 L334.6,1063.2 L339.5,1063.1 L344.4,1063.0 L349.3,1062.8 L354.2,1062.7 L359.2,1062.6 L364.1,1062.4 L369.0,1062.3 L373.9,1062.1 L378.8,1062.0 L383.7,1061.8 L388.6,1061.6 L393.5,1061.4 L398.4,1061.2 L403.3,1061.0 L408.3,1060.8 L413.2,1060.5 L418.1,1060.3 L423.0,1060.0 L427.9,1059.8 L432.8,1059.5 L437.7,1059.2 L442.6,1059.0 L447.5,1058.7 L452.4,1058.4 L457.4,1058.1 L462.3,1057.8 L467.2,1057.5 L472.1,1057.1 L477.0,1056.8 L481.9,1056.5 L486.8,1056.2 L491.7,1055.8 L496.6,1055.5 L501.5,1055.2 L506.4,1054.9 L511.4,1054.5 L516.3,1054.2 L521.2,1053.8 L526.1,1053.5 L531.0,1053.2 L535.9,1052.8 L540.8,1052.5 L545.7,1052.2 L550.6,1051.8 L555.5,1051.5 L560.5,1051.2 L565.4,1050.9 L570.3,1050.6 L575.2,1050.2 L580.1,1049.9 L585.0,1049.6 L589.9,1049.3 L594.8,1049.0 L599.7,1048.7 L604.6,1048.5 L609.6,1048.2 L614.5,1047.9 L619.4,1047.7 L624.3,1047.4 L629.2,1047.2 L634.1,1046.9 L639.0,1046.7 L643.9,1046.5 L648.8,1046.3 L653.7,1046.1 L658.7,1045.9 L663.6,1045.7 L668.5,1045.6 L673.4,1045.4 L678.3,1045.3 L683.2,1045.1 L688.1,1045.0 L693.0,1044.9 L697.9,1044.8 L702.8,1044.7 L707.7,1044.6 L712.7,1044.5 L717.6,1044.4 L722.5,1044.4 L727.4,1044.3 L732.3,1044.2 L737.2,1044.2 L742.1,1044.2 L747.0,1044.1 L751.9,1044.1 L756.8,1044.1 L761.8,1044.1 L766.7,1044.1 L771.6,1044.0 L776.5,1044.1 L781.4,1044.1 L786.3,1044.1 L791.2,1044.1 L796.1,1044.1 L801.0,1044.2 L805.9,1044.2 L810.9,1044.2 L815.8,1044.3 L820.7,1044.3 L825.6,1044.4 L830.5,1044.5 L835.4,1044.5 L840.3,1044.6 L845.2,1044.7 L850.1,1044.7 L855.0,1044.8 L859.9,1044.9 L864.9,1045.0 L869.8,1045.1 L874.7,1045.1 L879.6,1045.2 L884.5,1045.3 L889.4,1045.4 L894.3,1045.5 L899.2,1045.6 L904.1,1045.7 L909.0,1045.8 L914.0,1045.9 L918.9,1046.0 L923.8,1046.2 L928.7,1046.3 L933.6,1046.4 L938.5,1046.5 L943.4,1046.6 L948.3,1046.7 L953.2,1046.8 L958.1,1047.0 L963.1,1047.1 L968.0,1047.2 L972.9,1047.3 L977.8,1047.4 L982.7,1047.6 L987.6,1047.7 L992.5,1047.8 L997.4,1047.9 L1002.3,1048.0 L1007.2,1048.2 L1012.1,1048.3 L1017.1,1048.4 L1022.0,1048.5 L1026.9,1048.7 L1031.8,1048.8 L1036.7,1048.9 L1041.6,1049.0 L1046.5,1049.2 L1051.4,1049.3 L1056.3,1049.4 L1061.2,1049.5 L1066.2,1049.6 L1071.1,1049.8 L1076.0,1049.9 L1080.9,1050.0 L1085.8,1050.1 L1090.7,1050.2 L1095.6,1050.4 L1100.5,1050.5 L1105.4,1050.6 L1110.3,1050.7 L1115.3,1050.8 L1120.2,1050.9 L1125.1,1051.0 L1130.0,1051.1 L1134.9,1051.3 L1139.8,1051.4 L1144.7,1051.5 L1149.6,1051.6 L1154.5,1051.7 L1159.4,1051.8 L1164.3,1051.9 L1169.3,1052.0 L1174.2,1052.1 L1179.1,1052.1 L1184.0,1052.2 L1188.9,1052.3 L1193.8,1052.4 L1198.7,1052.5 L1203.6,1052.6 L1208.5,1052.6 L1213.4,1052.7 L1218.4,1052.8 L1223.3,1052.8 L1228.2,1052.9 L1233.1,1053.0 L1238.0,1053.0 L1242.9,1053.1 L1247.8,1053.1 L1252.7,1053.2 L1257.6,1053.2 L1262.5,1053.3 L1267.5,1053.3 L1272.4,1053.4 L1277.3,1053.4 L1282.2,1053.5 L1287.1,1053.5 L1292.0,1053.5 L1296.9,1053.6 L1301.8,1053.6 L1306.7,1053.6 L1311.6,1053.7 L1316.6,1053.7 L1321.5,1053.7 L1326.4,1053.7 L1331.3,1053.8 L1336.2,1053.8 L1341.1,1053.8 L1346.0,1053.8 L1350.9,1053.8 L1355.8,1053.8 L1360.7,1053.9 L1365.6,1053.9 L1370.6,1053.9 L1375.5,1053.9 L1380.4,1053.9 L1385.3,1053.9 L1390.2,1053.9 L1395.1,1053.9 L1400.0,1053.9 L1404.9,1054.0 L1409.8,1054.0 L1414.7,1054.0 L1419.7,1054.0 L1424.6,1054.0 L1429.5,1054.0 L1434.4,1054.0 L1439.3,1054.0 L1444.2,1054.0 L1449.1,1054.0 L1454.0,1054.0 L1458.9,1054.0 L1463.8,1054.0 L1468.8,1054.0 L1473.7,1054.0 L1478.6,1054.0 L1483.5,1054.1 L1488.4,1054.1 L1493.3,1054.1 L1498.2,1054.1 L1503.1,1054.1 L1508.0,1054.1 L1512.9,1054.1 L1517.8,1054.1 L1522.8,1054.1 L1527.7,1054.2 L1532.6,1054.2 L1537.5,1054.2 L1542.4,1054.2 L1547.3,1054.2 L1552.2,1054.2 L1557.1,1054.3 L1562.0,1054.3 L1566.9,1054.3 L1571.9,1054.3 L1576.8,1054.4 L1581.7,1054.4 L1586.6,1054.4 L1591.5,1054.5 L1596.4,1054.5 L1601.3,1054.5 L1606.2,1054.6 L1611.1,1054.6 L1616.0,1054.7 L1621.0,1054.7 L1625.9,1054.7 L1630.8,1054.8 L1635.7,1054.8 L1640.6,1054.9 L1645.5,1055.0"/>
<path d="M177.5,1066.7 L182.4,1066.8 L187.3,1066.9 L192.2,1067.0 L197.1,1067.0 L202.0,1067.1 L207.0,1067.2 L211.9,1067.3 L216.8,1067.3 L221.7,1067.4 L226.6,1067.5 L231.5,1067.5 L236.4,1067.6 L241.3,1067.7 L246.2,1067.7 L251.1,1067.8 L256.1,1067.9 L261.0,1067.9 L265.9,1068.0 L270.8,1068.1 L275.7,1068.2 L280.6,1068.2 L285.5,1068.3 L290.4,1068.4 L295.3,1068.5 L300.2,1068.5 L305.2,1068.6 L310.1,1068.7 L315.0,1068.8 L319.9,1068.9 L324.8,1069.0 L329.7,1069.1 L334.6,1069.2 L339.5,1069.3 L344.4,1069.5 L349.3,1069.6 L354.2,1069.7 L359.2,1069.8 L364.1,1070.0 L369.0,1070.1 L373.9,1070.3 L378.8,1070.4 L383.7,1070.6 L388.6,1070.7 L393.5,1070.9 L398.4,1071.1 L403.3,1071.3 L408.3,1071.5 L413.2,1071.7 L418.1,1071.9 L423.0,1072.1 L427.9,1072.3 L432.8,1072.6 L437.7,1072.8 L442.6,1073.0 L447.5,1073.3 L452.4,1073.5 L457.4,1073.7 L462.3,1074.0 L467.2,1074.2 L472.1,1074.5 L477.0,1074.8 L481.9,1075.0 L486.8,1075.3 L491.7,1075.5 L496.6,1075.8 L501.5,1076.1 L506.4,1076.3 L511.4,1076.6 L516.3,1076.9 L521.2,1077.1 L526.1,1077.4 L531.0,1077.7 L535.9,1077.9 L540.8,1078.2 L545.7,1078.5 L550.6,1078.7 L555.5,1079.0 L560.5,1079.2 L565.4,1079.5 L570.3,1079.7 L575.2,1080.0 L580.1,1080.2 L585.0,1080.5 L589.9,1080.7 L594.8,1080.9 L599.7,1081.1 L604.6,1081.4 L609.6,1081.6 L614.5,1081.8 L619.4,1082.0 L624.3,1082.2 L629.2,1082.4 L634.1,1082.5 L639.0,1082.7 L643.9,1082.9 L648.8,1083.0 L653.7,1083.2 L658.7,1083.3 L663.6,1083.5 L668.5,1083.6 L673.4,1083.7 L678.3,1083.8 L683.2,1083.9 L688.1,1084.0 L693.0,1084.1 L697.9,1084.1 L702.8,1084.2 L707.7,1084.3 L712.7,1084.3 L717.6,1084.4 L722.5,1084.4 L727.4,1084.4 L732.3,1084.5 L737.2,1084.5 L742.1,1084.5 L747.0,1084.5 L751.9,1084.5 L756.8,1084.5 L761.8,1084.5 L766.7,1084.5 L771.6,1084.5 L776.5,1084.5 L781.4,1084.4 L786.3,1084.4 L791.2,1084.4 L796.1,1084.3 L801.0,1084.3 L805.9,1084.2 L810.9,1084.2 L815.8,1084.1 L820.7,1084.1 L825.6,1084.0 L830.5,1083.9 L835.4,1083.9 L840.3,1083.8 L845.2,1083.7 L850.1,1083.6 L855.0,1083.6 L859.9,1083.5 L864.9,1083.4 L869.8,1083.3 L874.7,1083.2 L879.6,1083.1 L884.5,1083.0 L889.4,1082.9 L894.3,1082.9 L899.2,1082.8 L904.1,1082.7 L909.0,1082.6 L914.0,1082.5 L918.9,1082.4 L923.8,1082.3 L928.7,1082.2 L933.6,1082.1 L938.5,1082.0 L943.4,1081.9 L948.3,1081.8 L953.2,1081.7 L958.1,1081.6 L963.1,1081.5 L968.0,1081.4 L972.9,1081.3 L977.8,1081.2 L982.7,1081.2 L987.6,1081.1 L992.5,1081.0 L997.4,1080.9 L1002.3,1080.8 L1007.2,1080.7 L1012.1,1080.6 L1017.1,1080.5 L1022.0,1080.4 L1026.9,1080.3 L1031.8,1080.2 L1036.7,1080.2 L1041.6,1080.1 L1046.5,1080.0 L1051.4,1079.9 L1056.3,1079.8 L1061.2,1079.7 L1066.2,1079.7 L1071.1,1079.6 L1076.0,1079.5 L1080.9,1079.4 L1085.8,1079.3 L1090.7,1079.2 L1095.6,1079.2 L1100.5,1079.1 L1105.4,1079.0 L1110.3,1078.9 L1115.3,1078.9 L1120.2,1078.8 L1125.1,1078.7 L1130.0,1078.7 L1134.9,1078.6 L1139.8,1078.5 L1144.7,1078.4 L1149.6,1078.4 L1154.5,1078.3 L1159.4,1078.3 L1164.3,1078.2 L1169.3,1078.1 L1174.2,1078.1 L1179.1,1078.0 L1184.0,1078.0 L1188.9,1077.9 L1193.8,1077.9 L1198.7,1077.8 L1203.6,1077.8 L1208.5,1077.7 L1213.4,1077.7 L1218.4,1077.6 L1223.3,1077.6 L1228.2,1077.5 L1233.1,1077.5 L1238.0,1077.4 L1242.9,1077.4 L1247.8,1077.4 L1252.7,1077.3 L1257.6,1077.3 L1262.5,1077.3 L1267.5,1077.2 L1272.4,1077.2 L1277.3,1077.2 L1282.2,1077.2 L1287.1,1077.1 L1292.0,1077.1 L1296.9,1077.1 L1301.8,1077.1 L1306.7,1077.0 L1311.6,1077.0 L1316.6,1077.0 L1321.5,1077.0 L1326.4,1077.0 L1331.3,1077.0 L1336.2,1076.9 L1341.1,1076.9 L1346.0,1076.9 L1350.9,1076.9 L1355.8,1076.9 L1360.7,1076.9 L1365.6,1076.9 L1370.6,1076.9 L1375.5,1076.9 L1380.4,1076.8 L1385.3,1076.8 L1390.2,1076.8 L1395.1,1076.8 L1400.0,1076.8 L1404.9,1076.8 L1409.8,1076.8 L1414.7,1076.8 L1419.7,1076.8 L1424.6,1076.8 L1429.5,1076.8 L1434.4,1076.8 L1439.3,1076.8 L1444.2,1076.8 L1449.1,1076.8 L1454.0,1076.8 L1458.9,1076.7 L1463.8,1076.7 L1468.8,1076.7 L1473.7,1076.7 L1478.6,1076.7 L1483.5,1076.7 L1488.4,1076.7 L1493.3,1076.7 L1498.2,1076.7 L1503.1,1076.7 L1508.0,1076.7 L1512.9,1076.7 L1517.8,1076.7 L1522.8,1076.7 L1527.7,1076.7 L1532.6,1076.7 L1537.5,1076.6 L1542.4,1076.6 L1547.3,1076.6 L1552.2,1076.6 L1557.1,1076.6 L1562.0,1076.6 L1566.9,1076.6 L1571.9,1076.6 L1576.8,1076.5 L1581.7,1076.5 L1586.6,1076.5 L1591.5,1076.5 L1596.4,1076.5 L1601.3,1076.4 L1606.2,1076.4 L1611.1,1076.4 L1616.0,1076.4 L1621.0,1076.4 L1625.9,1076.3 L1630.8,1076.3 L1635.7,1076.3 L1640.6,1076.2 L1645.5,1076.2"/>
</g>
<g font-family="Liberation Sans, sans-serif" font-size="55.6" fill="#222" stroke="#222" stroke-width="0.4">
<text transform="translate(153.8,1216.9) scale(0.965,1)" text-anchor="end">-5</text>
<text transform="translate(156.0,1088.1) scale(0.965,1)" text-anchor="end">0</text>
<text transform="translate(156.0,959.3) scale(0.965,1)" text-anchor="end">5</text>
<text transform="translate(156.0,830.6) scale(0.965,1)" text-anchor="end">10</text>
<text transform="translate(156.0,701.8) scale(0.965,1)" text-anchor="end">15</text>
<text transform="translate(156.0,573.0) scale(0.965,1)" text-anchor="end">20</text>
<text transform="translate(156.0,444.2) scale(0.965,1)" text-anchor="end">25</text>
<text transform="translate(156.0,315.5) scale(0.965,1)" text-anchor="end">30</text>
<text transform="translate(156.0,186.7) scale(0.965,1)" text-anchor="end">35</text>
<text transform="translate(156.0,57.9) scale(0.965,1)" text-anchor="end">40</text>
<text transform="translate(177.2,1271.8) scale(0.965,1)" text-anchor="middle">0</text>
<text transform="translate(666.5,1271.8) scale(0.965,1)" text-anchor="middle">5</text>
<text transform="translate(1155.9,1271.8) scale(0.965,1)" text-anchor="middle">10</text>
<text transform="translate(1645.2,1271.8) scale(0.965,1)" text-anchor="middle">15</text>
</g>
<text font-family="Liberation Sans, sans-serif" font-size="60" fill="#1c1c1c" transform="translate(911.3,1329) scale(1.02,1)" text-anchor="middle">t (second)</text>
<text font-family="Liberation Sans, sans-serif" font-size="61" fill="#404040" transform="translate(69.3,616) rotate(-90)" text-anchor="middle">Percentage difference (%)</text>
<g stroke="#000" stroke-width="6" shape-rendering="crispEdges">
<line x1="905" y1="95" x2="1041" y2="95"/>
<line x1="905" y1="160" x2="1041" y2="160" stroke-dasharray="33.5 20.5"/>
</g>
<g font-family="Liberation Sans, sans-serif" font-size="46" fill="#000" stroke="#000" stroke-width="0.6">
<text transform="translate(1051,112) scale(1.027,1)">The present method</text>
<text transform="translate(1051,178) scale(1.027,1)">The numerical method [26]</text>
</g>
<line x1="1179.3" y1="360.4" x2="1105.6" y2="395.1" stroke="#000" stroke-width="2.6"/><polygon points="1075.0,409.5 1110.1,373.6 1105.6,395.1 1125.0,405.3" fill="#000"/>
<line x1="884.6" y1="621.2" x2="790.7" y2="731.0" stroke="#000" stroke-width="2.6"/><polygon points="768.7,756.7 786.0,709.6 790.7,731.0 812.5,732.4" fill="#000"/>
<line x1="809.9" y1="884.0" x2="785.6" y2="919.2" stroke="#000" stroke-width="2.6"/><polygon points="766.4,947.0 778.7,898.4 785.6,919.2 807.5,918.3" fill="#000"/>
<line x1="1145.0" y1="817.3" x2="966.9" y2="1021.8" stroke="#000" stroke-width="2.6"/><polygon points="944.7,1047.3 962.4,1000.4 966.9,1021.8 988.8,1023.3" fill="#000"/>
<line x1="1124.0" y1="1126.8" x2="1062.6" y2="1093.2" stroke="#000" stroke-width="2.6"/><polygon points="1032.9,1076.9 1082.5,1084.1 1062.6,1093.2 1065.7,1114.8" fill="#000"/>
<g font-family="Liberation Sans, sans-serif" font-size="42.6" fill="#000" stroke="#000" stroke-width="0.6">
<text x="1197.6" y="379">h = 0.01</text>
<text x="903.6" y="610">h = 0.01</text>
<text x="828.2" y="874">h = 0.001</text>
<text x="1163.7" y="806">h = 0.001</text>
<text x="1142.9" y="1144">h = 0.0001</text>
</g>
</svg>
</body></html>
